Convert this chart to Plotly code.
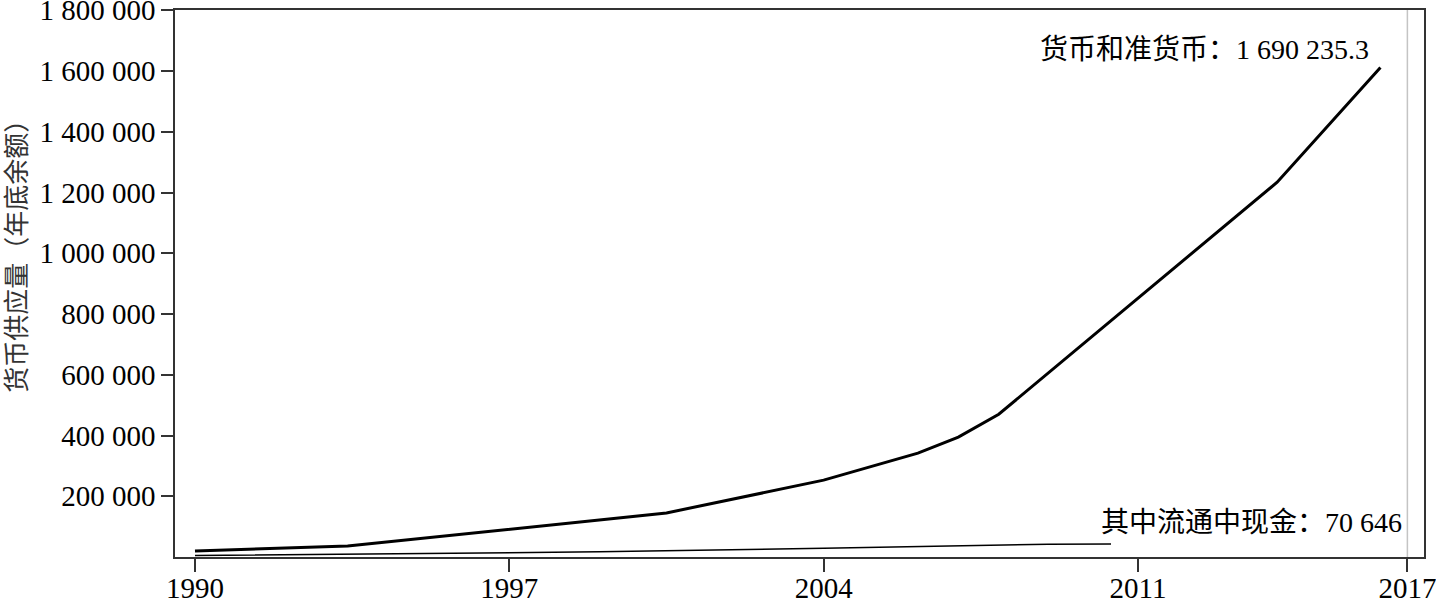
import plotly.graph_objects as go

# 货币和准货币 (M2)
m2_years = [1990, 1993.4, 2000.5, 2004.0, 2006.1, 2007.0, 2007.9, 2014.1, 2016.4]
m2_values = [20000, 36000, 145000, 253000, 342000, 395000, 470000, 1234000, 1612000]

# 其中流通中现金 (M0)
m0_years = [1990, 1999.0, 2004.0, 2009.0, 2010.4]
m0_values = [5000, 17000, 29000, 42000, 43000]

x_ticks = [1990, 1997, 2004, 2011, 2017]
y_ticks = [200000, 400000, 600000, 800000, 1000000, 1200000, 1400000, 1600000, 1800000]
y_tick_text = ["200 000", "400 000", "600 000", "800 000", "1 000 000",
               "1 200 000", "1 400 000", "1 600 000", "1 800 000"]

y_title = "货币供应量（年底余额）"
m2_label = "货币和准货币：1 690 235.3"
m0_label = "其中流通中现金：70 646"
ref_year = 2017

FONT = "Liberation Serif, 'Noto Sans CJK SC', serif"

fig = go.Figure()
fig.add_trace(go.Scatter(x=m2_years, y=m2_values, mode="lines",
                         line=dict(color="black", width=3), showlegend=False))
fig.add_trace(go.Scatter(x=m0_years, y=m0_values, mode="lines",
                         line=dict(color="black", width=1.5), showlegend=False))

fig.add_shape(type="line", xref="x", yref="paper", x0=ref_year, x1=ref_year, y0=0, y1=1,
              line=dict(color="#c4c4c4", width=1.5), layer="below")

fig.add_annotation(x=m2_years[-1] - 0.22, y=1670000, xref="x", yref="y", text=m2_label,
                   showarrow=False, xanchor="right", yanchor="middle",
                   font=dict(family=FONT, size=28, color="black"))
fig.add_annotation(x=ref_year - 0.08, y=115000, xref="x", yref="y", text=m0_label,
                   showarrow=False, xanchor="right", yanchor="middle",
                   font=dict(family=FONT, size=28, color="black"))
fig.add_annotation(x=-0.126, y=0.561, xref="paper", yref="paper", text=y_title,
                   showarrow=False, textangle=-90, xanchor="center", yanchor="middle",
                   font=dict(family=FONT, size=26, color="#333"))

fig.update_xaxes(range=[1989.555, 2017.37], tickvals=x_ticks, ticks="outside", ticklen=13,
                 tickwidth=1.5, tickcolor="#333", showline=True, linecolor="#333", linewidth=1.5,
                 mirror=True, showgrid=False, zeroline=False, automargin=False,
                 ticklabelstandoff=-9, ticklabeloverflow="allow",
                 tickfont=dict(family=FONT, size=29, color="black"))
fig.update_yaxes(range=[0, 1801000], tickvals=y_ticks, ticktext=y_tick_text, ticks="outside",
                 ticklen=12, tickwidth=1.5, tickcolor="#333", showline=True, linecolor="#333",
                 linewidth=1.5, mirror=True, showgrid=False, zeroline=False, automargin=False,
                 ticklabeloverflow="allow",
                 tickfont=dict(family=FONT, size=29, color="black"))

fig.update_layout(width=1436, height=604, margin=dict(l=175, r=12, t=10, b=47),
                  plot_bgcolor="white", paper_bgcolor="white")

fig.write_html("out.html", config={"displayModeBar": False},
               post_script="document.body.style.margin='0';")
